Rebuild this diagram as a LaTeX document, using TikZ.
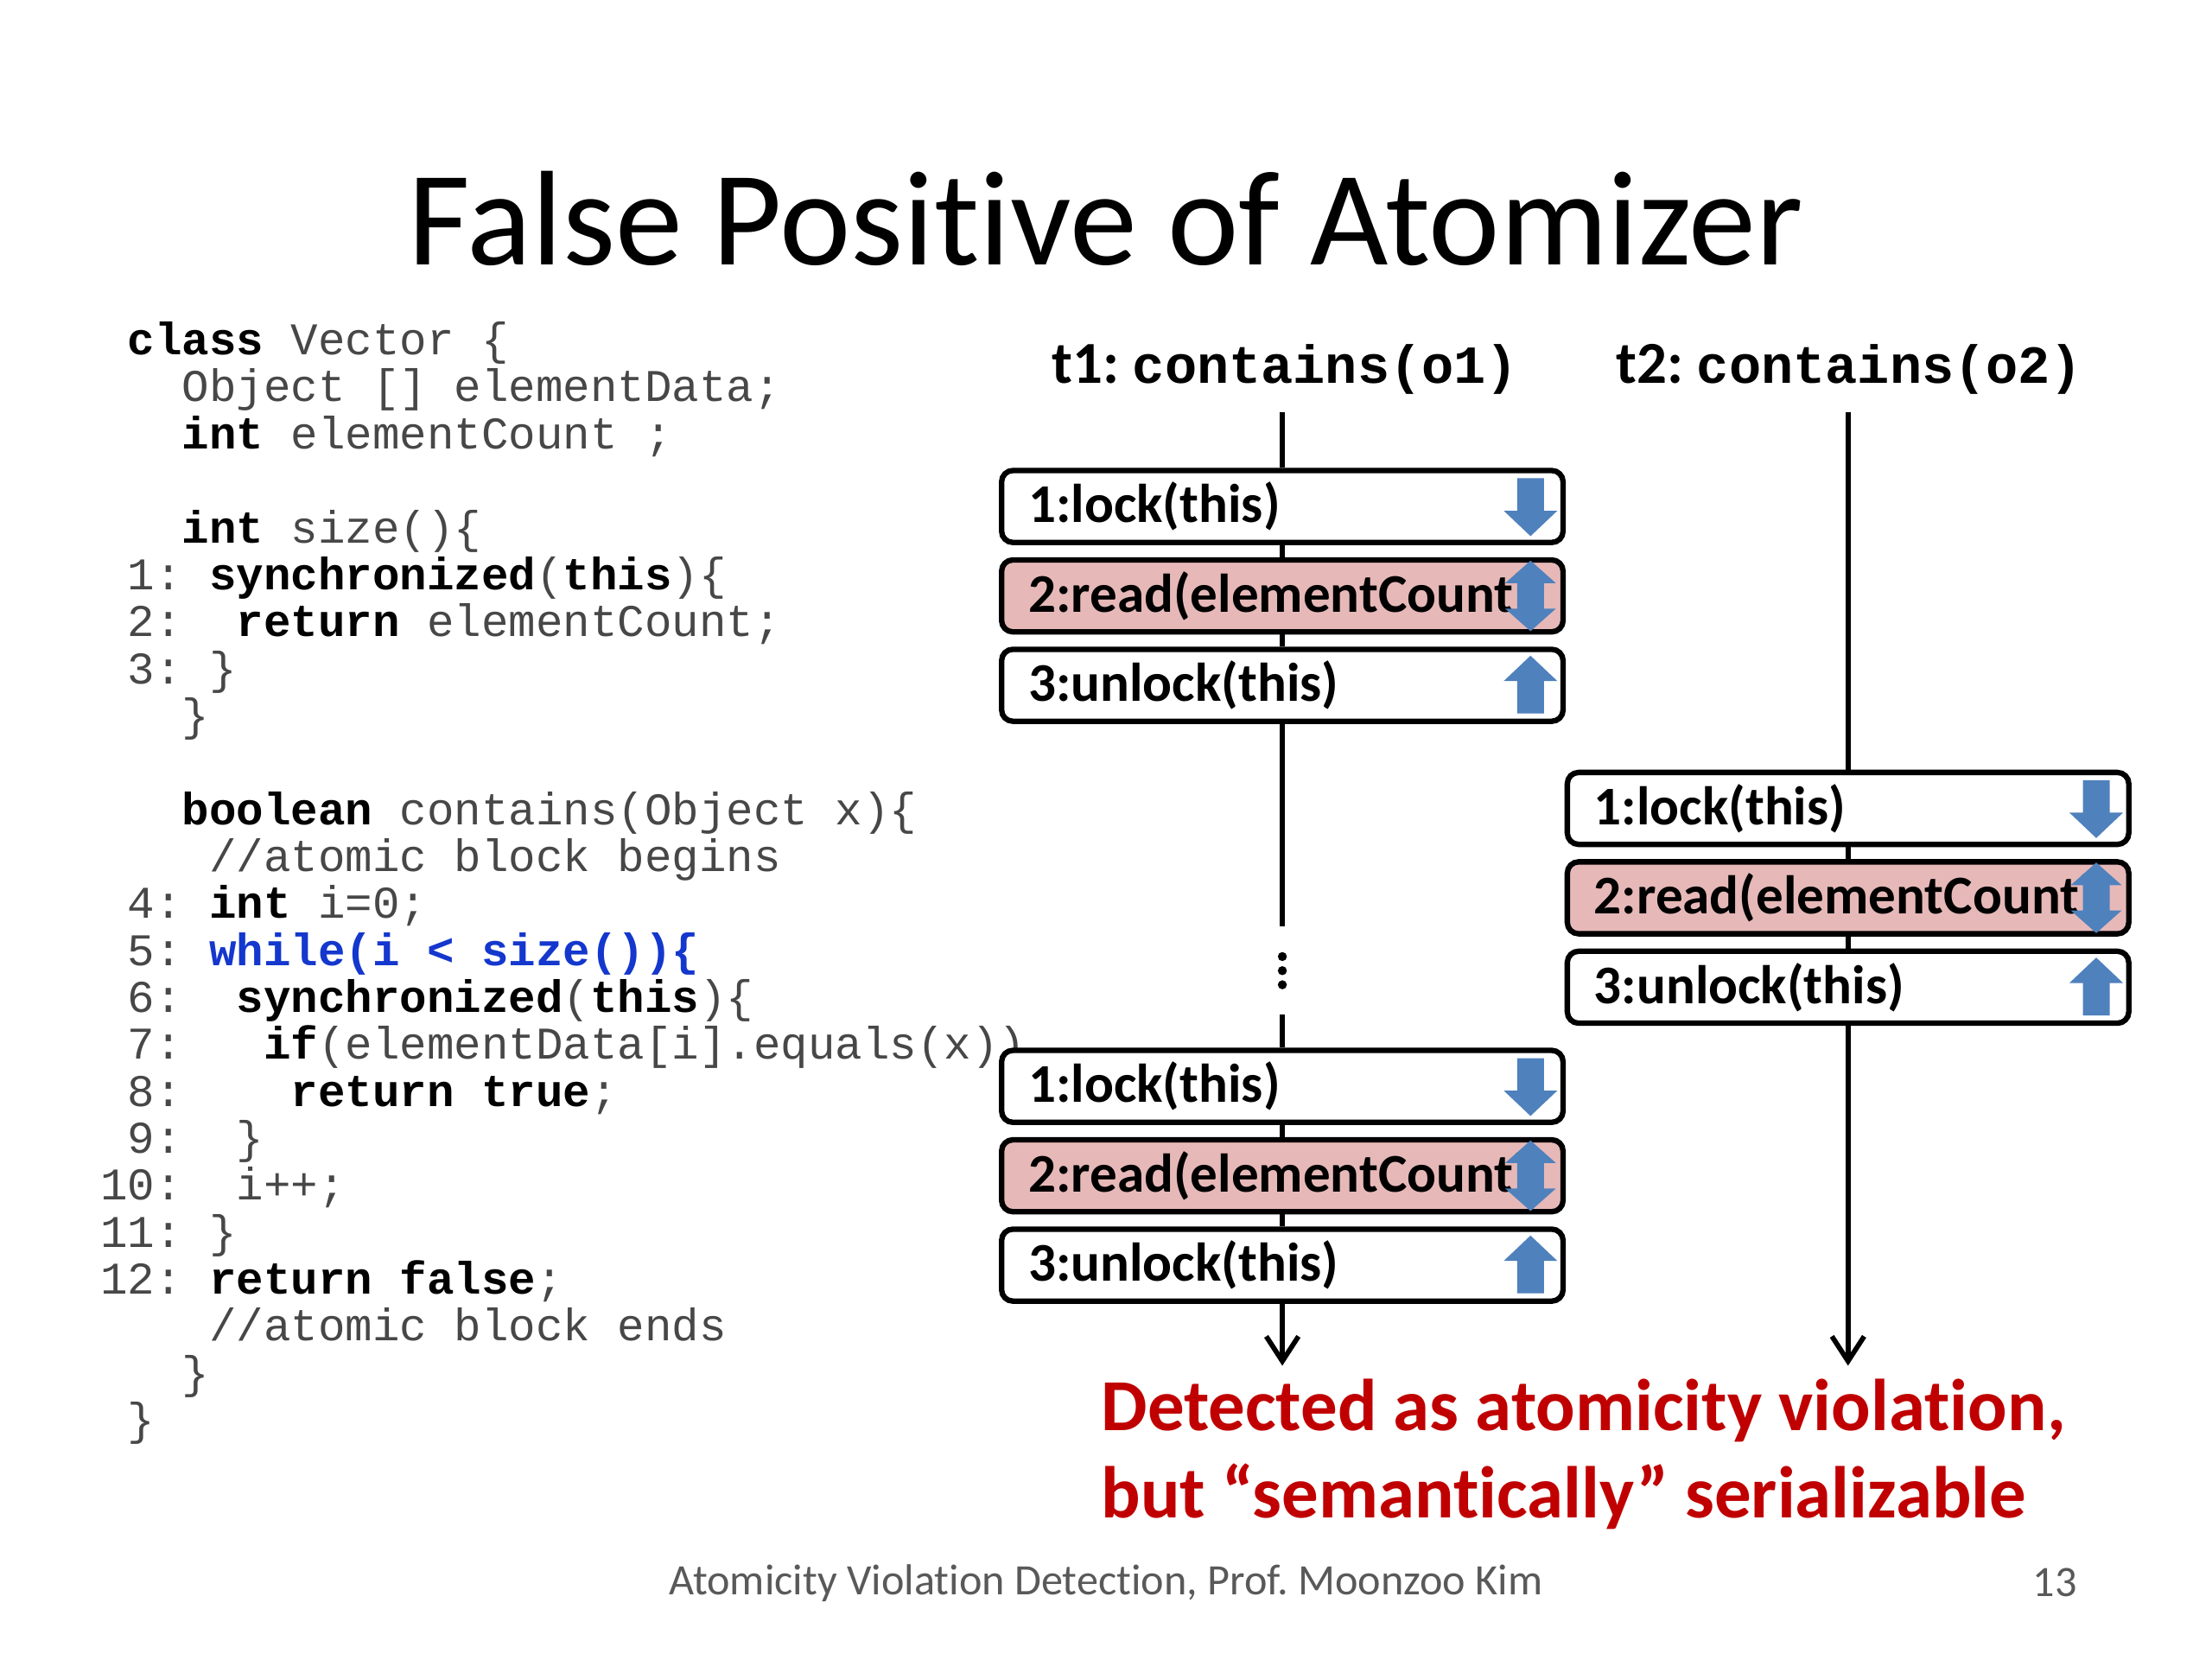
\documentclass[tikz,border=0pt]{standalone}
\usepackage{fontspec}
\setmainfont{Carlito}[Ligatures={NoCommon}]
\newfontfamily\codefont{Liberation Mono}
\usepackage{xcolor}
\usetikzlibrary{arrows.meta, positioning}

\definecolor{codeblue}{RGB}{20,55,205}
\definecolor{alertred}{RGB}{192,0,0}
\definecolor{readpink}{RGB}{230,185,184}
\definecolor{arrblue}{RGB}{79,129,189}

\newcommand{\ind}[1]{\hspace*{#1\fontcharwd\font`x}}
\newcommand{\kw}[1]{{\color{black}\bfseries #1}}

\begin{document}
\frenchspacing
\begin{tikzpicture}[
  x=0.1mm, y=-0.1mm,
  node distance=0.85mm,
  opbox/.style={rectangle, rounded corners=0.8mm, draw, line width=1.1pt, fill=white,
                text width=36mm, align=left, inner xsep=1.9mm, inner ysep=0pt, minimum height=5.1mm,
                font=\fontsize{11}{13}\selectfont\bfseries},
  readbox/.style={opbox, fill=readpink},
  tl/.style={line width=1pt},
  lockdown/.pic={\fill[arrblue] (-9.5,-20) -- (9.5,-20) -- (9.5,3) -- (19,3) -- (0,21) -- (-19,3) -- (-9.5,3) -- cycle;},
  unlockup/.pic={\fill[arrblue] (-9.5,20) -- (9.5,20) -- (9.5,-3) -- (19,-3) -- (0,-21) -- (-19,-3) -- (-9.5,-3) -- cycle;},
  readboth/.pic={\fill[arrblue] (0,-25) -- (18,-9) -- (9.5,-9) -- (9.5,9) -- (18,9) -- (0,25) -- (-18,9) -- (-9.5,9) -- (-9.5,-9) -- (-18,-9) -- cycle;}
]
  \useasboundingbox (0,0) rectangle (1568,1176);

  \node[font=\fontsize{27.2}{32}\selectfont, anchor=base] (title) at (784,188) {False Positive of Atomizer};

  % source code
  \node[anchor=north west, inner sep=0pt, align=left, text=black!72,
        font=\codefont\fontsize{9.15}{9.47}\selectfont] (code) at (70.5,227.5) {%
    \ind{1}\kw{class} Vector \{\\
    \ind{3}Object [] elementData;\\
    \ind{3}\kw{int} elementCount ;\\
    \mbox{}\\
    \ind{3}\kw{int} size()\{\\
    \ind{1}1: \kw{synchronized}(\kw{this})\{\\
    \ind{1}2:\ind{2}\kw{return} elementCount;\\
    \ind{1}3: \}\\
    \ind{3}\}\\
    \mbox{}\\
    \ind{3}\kw{boolean} contains(Object x)\{\\
    \ind{4}//atomic block begins\\
    \ind{1}4: \kw{int} i=0;\\
    \ind{1}5: {\color{codeblue}\bfseries while(i < size())\{}\\
    \ind{1}6:\ind{2}\kw{synchronized}(\kw{this})\{\\
    \ind{1}7:\ind{3}\kw{if}(elementData[i].equals(x))\\
    \ind{1}8:\ind{4}\kw{return true};\\
    \ind{1}9:\ind{2}\}\\
    10:\ind{2}i++;\\
    11: \}\\
    12: \kw{return false};\\
    \ind{4}//atomic block ends\\
    \ind{3}\}\\
    \ind{1}\}};

  % thread headers
  \node[font=\fontsize{12}{14}\selectfont\bfseries] (h1) at (911,262) {t1: {\codefont\fontsize{10.8}{13}\selectfont contains(o1)}};
  \node[font=\fontsize{12}{14}\selectfont\bfseries] (h2) at (1311,262) {t2: {\codefont\fontsize{10.8}{13}\selectfont contains(o2)}};

  % thread t1
  \node[opbox] (la) at (909,359) {1:lock(this)};
  \node[readbox, below=of la] (ra) {2:read(elementCount)};
  \node[opbox, below=of ra] (ua) {3:unlock(this)};
  \node[inner sep=0pt, minimum width=2mm, minimum height=6.1mm] (dots) at (909,688) {};
  \foreach \dy in {-10,0,10}
    \fill ([yshift=\dy*0.1mm]dots.center) circle (0.32mm);
  \node[opbox] (lb) at (909,770) {1:lock(this)};
  \node[readbox, below=of lb] (rb) {2:read(elementCount)};
  \node[opbox, below=of rb] (ub) {3:unlock(this)};
  \coordinate (e1) at (909,968);

  % thread t2
  \node[opbox] (lc) at (1310,573) {1:lock(this)};
  \node[readbox, below=of lc] (rc) {2:read(elementCount)};
  \node[opbox, below=of rc] (uc) {3:unlock(this)};
  \coordinate (e2) at (1310,968);

  \draw[tl] (la.north |- h1.south) -- (la);
  \draw[tl] (la) -- (ra);
  \draw[tl] (ra) -- (ua);
  \draw[tl] (ua) -- (dots);
  \draw[tl] (dots) -- (lb);
  \draw[tl] (lb) -- (rb);
  \draw[tl] (rb) -- (ub);
  \draw[tl, -{Straight Barb[length=5pt, width=6.5pt]}] (ub) -- (e1);

  \draw[tl] (lc.north |- h2.south) -- (lc);
  \draw[tl] (lc) -- (rc);
  \draw[tl] (rc) -- (uc);
  \draw[tl, -{Straight Barb[length=5pt, width=6.5pt]}] (uc) -- (e2);

  \pic at ([xshift=-2.5mm]la.east) {lockdown};
  \pic at ([xshift=-2.5mm]ra.east) {readboth};
  \pic at ([xshift=-2.5mm]ua.east) {unlockup};
  \pic at ([xshift=-2.5mm]lb.east) {lockdown};
  \pic at ([xshift=-2.5mm]rb.east) {readboth};
  \pic at ([xshift=-2.5mm]ub.east) {unlockup};
  \pic at ([xshift=-2.5mm]lc.east) {lockdown};
  \pic at ([xshift=-2.5mm]rc.east) {readboth};
  \pic at ([xshift=-2.5mm]uc.east) {unlockup};

  \node[anchor=north west, align=left, inner sep=0pt, text=alertred,
        font=\fontsize{14.8}{17.6}\selectfont\bfseries] (note) at (780,977)
        {Detected as atomicity violation,\\but “semantically” serializable};

  \node[font=\fontsize{8.75}{11}\selectfont, text=black!65] (foot) at (784,1122) {Atomicity Violation Detection, Prof. Moonzoo Kim};
  \node[font=\fontsize{8.75}{11}\selectfont, text=black!65, anchor=east, inner sep=0pt] (page) at (1473,1122) {13};
\end{tikzpicture}
\end{document}
